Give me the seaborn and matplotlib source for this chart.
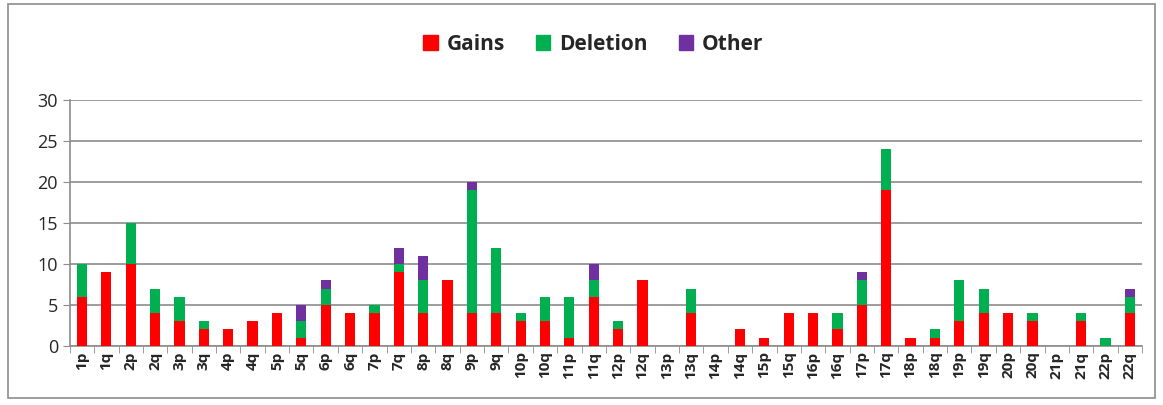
import matplotlib.pyplot as plt
import matplotlib.patches as mpatches
import seaborn as sns
import pandas as pd
import numpy as np

# Chromosome arms and counts per event type
arms = ["1p", "1q", "2p", "2q", "3p", "3q", "4p", "4q", "5p", "5q", "6p", "6q",
        "7p", "7q", "8p", "8q", "9p", "9q", "10p", "10q", "11p", "11q", "12p", "12q",
        "13p", "13q", "14p", "14q", "15p", "15q", "16p", "16q", "17p", "17q", "18p", "18q",
        "19p", "19q", "20p", "20q", "21p", "21q", "22p", "22q"]
gains = [6, 9, 10, 4, 3, 2, 2, 3, 4, 1, 5, 4,
         4, 9, 4, 8, 4, 4, 3, 3, 1, 6, 2, 8,
         0, 4, 0, 2, 1, 4, 4, 2, 5, 19, 1, 1,
         3, 4, 4, 3, 0, 3, 0, 4]
deletion = [4, 0, 5, 3, 3, 1, 0, 0, 0, 2, 2, 0,
            1, 1, 4, 0, 15, 8, 1, 3, 5, 2, 1, 0,
            0, 3, 0, 0, 0, 0, 0, 2, 3, 5, 0, 1,
            5, 3, 0, 1, 0, 1, 1, 2]
other = [0, 0, 0, 0, 0, 0, 0, 0, 0, 2, 1, 0,
         0, 2, 3, 0, 1, 0, 0, 0, 0, 2, 0, 0,
         0, 0, 0, 0, 0, 0, 0, 0, 1, 0, 0, 0,
         0, 0, 0, 0, 0, 0, 0, 1]

colors = {"Gains": "#FF0000", "Deletion": "#00B050", "Other": "#7030A0"}

df = pd.DataFrame({"arm": arms, "Gains": gains, "Deletion": deletion, "Other": other})
df["gd"] = df["Gains"] + df["Deletion"]
df["total"] = df["gd"] + df["Other"]

sns.set_style("white")
plt.rcParams["font.family"] = ["Open Sans", "DejaVu Sans"]

fig = plt.figure(figsize=(11.63, 4.05), dpi=100)
ax = fig.add_axes([0.060, 0.146, 0.922, 0.607])

# stacked bars drawn back to front as cumulative totals
for col, label in [("total", "Other"), ("gd", "Deletion"), ("Gains", "Gains")]:
    sns.barplot(data=df, x="arm", y=col, color=colors[label], width=0.42,
                saturation=1, ax=ax, linewidth=0, zorder=3)

ax.set_ylim(0, 30)
ax.set_yticks(range(0, 31, 5))
ax.set_xlim(-0.5, len(arms) - 0.5)
ax.yaxis.grid(True, color="#8c8c8c", linewidth=1.2, zorder=0)
ax.set_xlabel("")
ax.set_ylabel("")

for s in ["top", "right"]:
    ax.spines[s].set_visible(False)
for s in ["left", "bottom"]:
    ax.spines[s].set_color("#8c8c8c")
    ax.spines[s].set_linewidth(1.2)

ax.tick_params(axis="y", labelsize=13, length=5, color="#8c8c8c", direction="out", left=True)
ax.tick_params(axis="x", labelsize=11, length=0, rotation=90, pad=4)
for t in ax.get_xticklabels():
    t.set_fontweight("bold")
ax.set_xticks(np.arange(-0.5, len(arms), 1), minor=True)
ax.tick_params(axis="x", which="minor", length=5, color="#8c8c8c", bottom=True)

handles = [mpatches.Patch(color=colors[k]) for k in ["Gains", "Deletion", "Other"]]
fig.legend(handles, ["Gains", "Deletion", "Other"], loc="center", bbox_to_anchor=(0.51, 0.89),
           ncol=3, frameon=False, prop={"size": 15, "weight": "bold"},
           handlelength=0.7, handleheight=0.7, handletextpad=0.4, columnspacing=1.5)

# outer chart frame
fig.patches.append(mpatches.Rectangle((0.007, 0.017), 0.986, 0.972, transform=fig.transFigure,
                                      fill=False, edgecolor="#8c8c8c", linewidth=1.2))

fig.savefig("out.png", dpi=100)
